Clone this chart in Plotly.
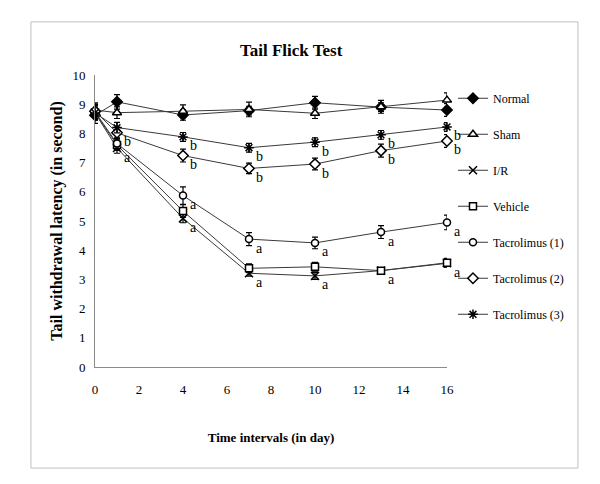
import plotly.graph_objects as go

days = [0, 1, 4, 7, 10, 13, 16]

series_names = ["Normal", "Sham", "I/R", "Vehicle", "Tacrolimus (1)", "Tacrolimus (2)", "Tacrolimus (3)"]

normal = [8.62, 9.08, 8.63, 8.78, 9.05, 8.90, 8.80]
sham = [8.80, 8.71, 8.76, 8.82, 8.69, 8.91, 9.14]
ir = [8.70, 7.50, 5.09, 3.21, 3.12, 3.30, 3.55]
vehicle = [8.72, 7.60, 5.34, 3.38, 3.43, 3.30, 3.57]
tac1 = [8.74, 7.65, 5.87, 4.38, 4.25, 4.62, 4.95]
tac2 = [8.76, 8.02, 7.24, 6.80, 6.95, 7.41, 7.74]
tac3 = [8.70, 8.20, 7.88, 7.51, 7.70, 7.95, 8.22]

normal_err = [0.28, 0.25, 0.18, 0.15, 0.22, 0.15, 0.22]
sham_err = [0.25, 0.20, 0.22, 0.25, 0.18, 0.22, 0.25]
ir_err = [0.25, 0.18, 0.15, 0.10, 0.12, 0.10, 0.12]
vehicle_err = [0.25, 0.18, 0.22, 0.15, 0.15, 0.10, 0.15]
tac1_err = [0.25, 0.20, 0.30, 0.22, 0.20, 0.22, 0.25]
tac2_err = [0.25, 0.20, 0.22, 0.18, 0.20, 0.22, 0.22]
tac3_err = [0.25, 0.18, 0.15, 0.15, 0.15, 0.15, 0.15]

# significance letters per point
ir_lab = [None, "a", "a", "a", "a", "a", "a"]
tac1_lab = [None, None, "a", "a", "a", "a", "a"]
tac2_lab = [None, "b", "b", "b", "b", "b", "b"]
tac3_lab = [None, None, "b", "b", "b", "b", "b"]

values = [normal, sham, ir, vehicle, tac1, tac2, tac3]
errors = [normal_err, sham_err, ir_err, vehicle_err, tac1_err, tac2_err, tac3_err]
symbols = ["diamond", "triangle-up", "x-thin-open", "square", "circle", "diamond", "asterisk-open"]
fills = ["black", "white", "black", "white", "white", "white", "black"]
sizes = [8, 8, 8, 7, 7, 8, 8]

FONT = "Liberation Serif"

fig = go.Figure()
for i, (name, vals, err) in enumerate(zip(series_names, values, errors)):
    fig.add_trace(go.Scatter(
        x=days, y=vals, name=name, mode="lines+markers",
        legendgroup=name,
        line=dict(color="#3a3a3a", width=1),
        marker=dict(symbol=symbols[i], size=sizes[i], color=fills[i],
                    line=dict(color="black", width=1.5)),
        error_y=dict(type="data", array=err, visible=True, color="black", thickness=1.2, width=3),
        cliponaxis=False,
    ))

annotations = []
for vals, labs in [(ir, ir_lab), (tac1, tac1_lab), (tac2, tac2_lab), (tac3, tac3_lab)]:
    for d, v, lab in zip(days, vals, labs):
        if lab:
            annotations.append(dict(x=d, y=v, text=lab, showarrow=False, xanchor="left", yanchor="middle",
                                    xshift=5, yshift=-9, font=dict(family=FONT, size=14, color="black")))

fig.update_layout(
    width=600, height=484,
    margin=dict(l=87, r=161, t=67, b=125),
    paper_bgcolor="white", plot_bgcolor="white",
    title=dict(text="<b>Tail Flick Test</b>", x=0.472, xanchor="center", y=0.913, yanchor="middle",
               font=dict(family=FONT, size=17, color="black")),
    showlegend=True,
    legend=dict(x=1.017, xanchor="left", y=0.97, yanchor="top", tracegroupgap=17,
                font=dict(family=FONT, size=12, color="black"), bgcolor="rgba(0,0,0,0)"),
    annotations=annotations,
    shapes=[dict(type="rect", xref="paper", yref="paper", x0=-0.182, x1=1.372, y0=-0.346, y1=1.182,
                 line=dict(color="#c0c0c0", width=1), fillcolor="rgba(0,0,0,0)", layer="below")],
)
fig.update_xaxes(range=[0, 16], tickvals=[0, 2, 4, 6, 8, 10, 12, 14, 16], showgrid=False, zeroline=False,
                 showline=True, linecolor="#8a8a8a", linewidth=1, ticks="outside", ticklen=10,
                 tickcolor="rgba(0,0,0,0)", automargin=False,
                 tickfont=dict(family=FONT, size=13, color="black"),
                 title=dict(text="<b>Time intervals (in day)</b>", standoff=37,
                            font=dict(family=FONT, size=13, color="black")))
fig.update_yaxes(range=[0, 10], tickvals=list(range(0, 11)), showgrid=False, zeroline=False,
                 showline=True, linecolor="#8a8a8a", linewidth=1, ticks="outside", ticklen=6,
                 tickcolor="rgba(0,0,0,0)", automargin=False,
                 tickfont=dict(family=FONT, size=13, color="black"),
                 title=dict(text="<b>Tail withdrawal latency (in second)</b>", standoff=5,
                            font=dict(family=FONT, size=16, color="black")))

fig.write_html("out.html")
